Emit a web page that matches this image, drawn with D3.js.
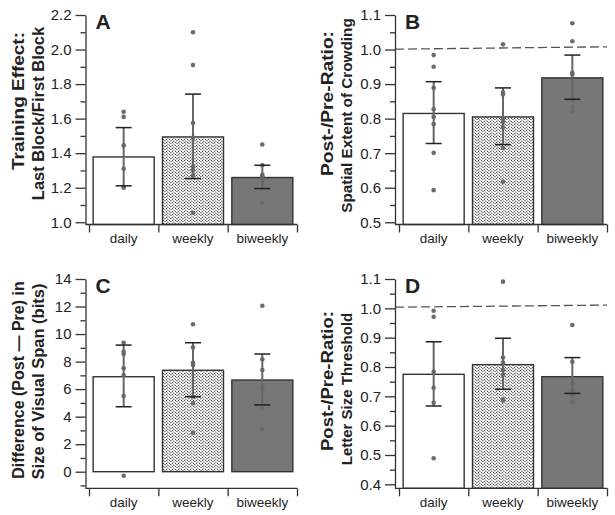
<!DOCTYPE html>
<html><head><meta charset="utf-8">
<script src="https://cdn.jsdelivr.net/npm/d3@7"></script>
<style>body{margin:0;background:#fff}svg{display:block}text{font-family:"Liberation Sans",Arial,sans-serif}</style>
</head><body><svg id="c" width="615" height="515"></svg>
<script>
const categories = ["daily", "weekly", "biweekly"];

// Panel A: Training effect
const aMeans = [1.378, 1.494, 1.259];
const aLow = [1.211, 1.253, 1.195];
const aHigh = [1.548, 1.742, 1.330];
const aPoints = [[1.64, 1.61, 1.445, 1.31, 1.205, 1.20],
                 [2.10, 1.91, 1.575, 1.49, 1.32, 1.30, 1.27, 1.055],
                 [1.45, 1.33, 1.275, 1.265, 1.24, 1.11]];
const aTicks = [1.0, 1.2, 1.4, 1.6, 1.8, 2.0, 2.2];
const aMinor = [1.1, 1.3, 1.5, 1.7, 1.9, 2.1];

// Panel B: Spatial extent of crowding
const bMeans = [0.815, 0.805, 0.918];
const bLow = [0.728, 0.725, 0.856];
const bHigh = [0.907, 0.889, 0.984];
const bPoints = [[0.984, 0.950, 0.889, 0.827, 0.805, 0.784, 0.701, 0.593],
                 [1.015, 0.876, 0.870, 0.800, 0.790, 0.775, 0.715, 0.617],
                 [1.076, 1.024, 0.933, 0.928, 0.855, 0.834, 0.821]];
const bTicks = [0.5, 0.6, 0.7, 0.8, 0.9, 1.0, 1.1];
const bMinor = [0.55, 0.65, 0.75, 0.85, 0.95, 1.05];
const bRef = [1.001, 1.008];

// Panel C: Visual span difference
const cMeans = [6.90, 7.37, 6.66];
const cLow = [4.72, 5.45, 4.85];
const cHigh = [9.20, 9.37, 8.55];
const cPoints = [[9.37, 8.72, 8.55, 7.51, 7.03, 5.50, -0.29],
                 [10.71, 9.03, 7.92, 7.75, 5.45, 4.97, 2.83],
                 [12.06, 8.17, 7.39, 6.20, 6.0, 4.60, 3.08]];
const cTicks = [0, 2, 4, 6, 8, 10, 12, 14];
const cMinor = [-1, 1, 3, 5, 7, 9, 11, 13];

// Panel D: Letter size threshold
const dMeans = [0.775, 0.808, 0.767];
const dLow = [0.667, 0.724, 0.710];
const dHigh = [0.886, 0.898, 0.832];
const dPoints = [[0.992, 0.971, 0.784, 0.729, 0.678, 0.489],
                 [1.091, 0.832, 0.815, 0.790, 0.773, 0.690, 0.685],
                 [0.943, 0.818, 0.744, 0.720, 0.704, 0.682]];
const dTicks = [0.4, 0.5, 0.6, 0.7, 0.8, 0.9, 1.0, 1.1];
const dMinor = [0.45, 0.55, 0.65, 0.75, 0.85, 0.95, 1.05];
const dRef = [1.004, 1.011];

const svg = d3.select("#c");
const defs = svg.append("defs");
const pat = defs.append("pattern").attr("id", "stipple").attr("patternUnits", "userSpaceOnUse")
  .attr("width", 6).attr("height", 6);
pat.append("rect").attr("width", 6).attr("height", 6).attr("fill", "#f4f4f4");
pat.append("path").attr("d", "M0,0 L3,3 L6,0 M0,3 L3,6 L6,3").attr("fill", "none")
  .attr("stroke", "#b0b0b0").attr("stroke-width", 1.0);
[[1, 1], [4, 1], [2.5, 2.5], [1, 4], [4, 4], [5.5, 5.5], [5.5, 2.5], [2.5, 5.5]].forEach(p => {
  pat.append("rect").attr("x", p[0]).attr("y", p[1]).attr("width", 0.8).attr("height", 0.8).attr("fill", "#111");
});

const fills = ["#ffffff", "url(#stipple)", "#777777"];

function panel(cfg) {
  const g = svg.append("g");
  const x = d3.scaleBand().domain(categories).range(cfg.xRange).paddingInner(0.12).paddingOuter(0.06);
  const y = d3.scaleLinear().domain([cfg.lo, cfg.hi]).range([cfg.bottom, cfg.top]);
  const base = cfg.lo < 0 ? 0 : cfg.lo;
  const cx = c => x(c) + x.bandwidth() / 2;

  g.selectAll("rect.bar").data(categories).join("rect").attr("class", "bar")
    .attr("x", c => x(c)).attr("width", x.bandwidth())
    .attr("y", (c, i) => y(cfg.means[i]))
    .attr("height", (c, i) => y(base) - y(cfg.means[i]))
    .attr("fill", (c, i) => fills[i]).attr("stroke", "#333").attr("stroke-width", 1.4);

  if (cfg.ref) {
    g.append("line").attr("x1", cfg.axisX).attr("x2", cfg.xRange[1])
      .attr("y1", y(cfg.ref[0])).attr("y2", y(cfg.ref[1]))
      .attr("stroke", "#555").attr("stroke-width", 1.3).attr("stroke-dasharray", "9,4");
  }

  categories.forEach((c, i) => {
    g.selectAll(null).data(cfg.points[i]).join("circle")
      .attr("cx", cx(c)).attr("cy", v => y(v)).attr("r", 2.3).attr("fill", "#6b6b6b");
  });

  categories.forEach((c, i) => {
    g.append("line").attr("x1", cx(c)).attr("x2", cx(c))
      .attr("y1", y(cfg.low[i])).attr("y2", y(cfg.high[i]))
      .attr("stroke", "#666").attr("stroke-width", 2);
    [cfg.low[i], cfg.high[i]].forEach(v => {
      g.append("line").attr("x1", cx(c) - 8).attr("x2", cx(c) + 8)
        .attr("y1", y(v)).attr("y2", y(v)).attr("stroke", "#222").attr("stroke-width", 1.5);
    });
  });

  const yAx = g.append("g").attr("transform", `translate(${cfg.axisX},0)`)
    .call(d3.axisLeft(y).tickValues(cfg.ticks).tickFormat(d3.format(cfg.fmt))
      .tickSize(10).tickSizeOuter(0).tickPadding(4));
  yAx.select(".domain").attr("stroke", "#333").attr("stroke-width", 1.3);
  yAx.selectAll(".tick line").attr("stroke", "#333").attr("stroke-width", 1.3);
  yAx.selectAll(".tick text").attr("font-size", 15).attr("fill", "#222")
    .style("font-family", '"Liberation Sans", Arial, sans-serif');
  const yMin = g.append("g").attr("transform", `translate(${cfg.axisX},0)`)
    .call(d3.axisLeft(y).tickValues(cfg.minor).tickFormat("").tickSize(5).tickSizeOuter(0));
  yMin.select(".domain").remove();
  yMin.selectAll(".tick line").attr("stroke", "#333").attr("stroke-width", 1.3);

  const bx = d3.scaleLinear().domain([0, categories.length]).range(cfg.xRange);
  g.append("line").attr("x1", cfg.axisX).attr("x2", cfg.xRange[1])
    .attr("y1", cfg.bottom).attr("y2", cfg.bottom).attr("stroke", "#333").attr("stroke-width", 1.3);
  const xAx = g.append("g").attr("transform", `translate(0,${cfg.bottom})`)
    .call(d3.axisBottom(bx).tickValues(d3.range(categories.length + 1)).tickFormat("").tickSize(8).tickSizeOuter(0));
  xAx.select(".domain").remove();
  xAx.selectAll(".tick line").attr("stroke", "#333").attr("stroke-width", 1.3);
  g.selectAll("text.cat").data(categories).join("text").attr("class", "cat")
    .attr("x", c => cx(c)).attr("y", cfg.bottom + 18.5).attr("text-anchor", "middle")
    .attr("font-size", 13.5).attr("fill", "#222").text(c => c);

  g.append("text").attr("x", cfg.axisX + 10).attr("y", cfg.top + 13.5)
    .attr("font-size", 21).attr("font-weight", "bold").attr("fill", "#222").text(cfg.letter);

  cfg.title.forEach((t, k) => {
    const tx = g.append("text").attr("transform", `translate(${cfg.titleX[k]},${cfg.titleMid[k]}) rotate(-90)`)
      .attr("text-anchor", "middle").attr("font-size", cfg.titleSize[k]).attr("font-weight", "bold")
      .attr("fill", "#222").text(t);
    if (cfg.titleLen[k]) tx.attr("textLength", cfg.titleLen[k]).attr("lengthAdjust", "spacingAndGlyphs");
  });
}

panel({letter: "A", means: aMeans, low: aLow, high: aHigh, points: aPoints, ticks: aTicks, minor: aMinor,
  fmt: ".1f", lo: 0.987, hi: 2.2, bottom: 224.5, top: 15, xRange: [89, 297], axisX: 85.5,
  titleX: [24, 43.5], titleMid: [101, 113.5], titleLen: [138, 0], titleSize: [16, 16.5],
  title: ["Training Effect:", "Last Block/First Block"]});
panel({letter: "B", means: bMeans, low: bLow, high: bHigh, points: bPoints, ticks: bTicks, minor: bMinor,
  fmt: ".1f", lo: 0.4936, hi: 1.1, bottom: 224.5, top: 15, xRange: [399, 607], axisX: 395, ref: bRef,
  titleX: [333, 351.5], titleMid: [103.5, 115.5], titleLen: [145, 0], titleSize: [16, 15.3],
  title: ["Post-/Pre-Ratio:", "Spatial Extent of Crowding"]});
panel({letter: "C", means: cMeans, low: cLow, high: cHigh, points: cPoints, ticks: cTicks, minor: cMinor,
  fmt: "d", lo: -1.206, hi: 14, bottom: 488.3, top: 279, xRange: [89, 297], axisX: 85.5,
  titleX: [24, 43.5], titleMid: [380, 381.5], titleLen: [0, 0], titleSize: [16, 16.5],
  title: ["Difference (Post \u2014 Pre) in", "Size of Visual Span (bits)"]});
panel({letter: "D", means: dMeans, low: dLow, high: dHigh, points: dPoints, ticks: dTicks, minor: dMinor,
  fmt: ".1f", lo: 0.3864, hi: 1.1, bottom: 488.3, top: 279, xRange: [399, 607], axisX: 395, ref: dRef,
  titleX: [333, 351.5], titleMid: [381, 389], titleLen: [140, 0], titleSize: [16, 15],
  title: ["Post-/Pre-Ratio:", "Letter Size Threshold"]});
</script></body></html>
